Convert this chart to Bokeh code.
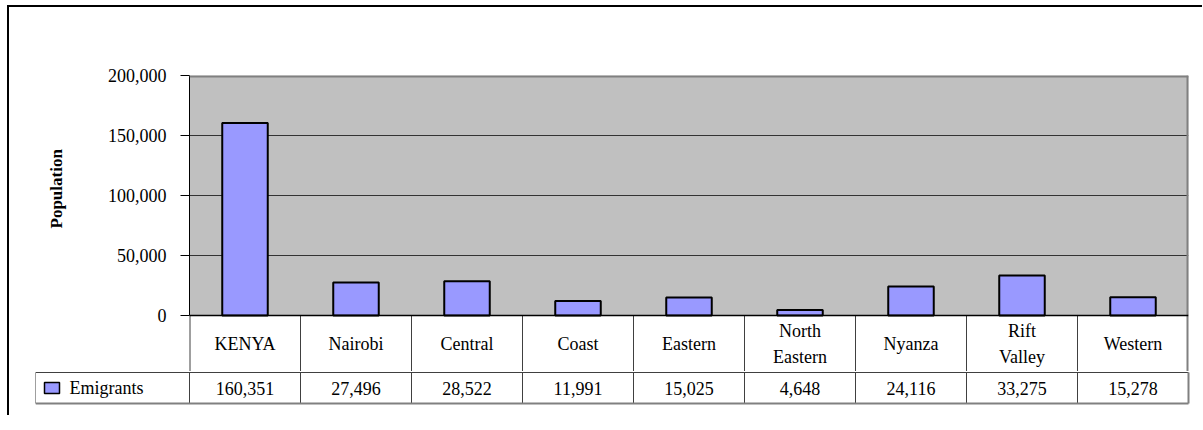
from bokeh.plotting import figure
from bokeh.layouts import column
from bokeh.models import (Range1d, FactorRange, FixedTicker, NumeralTickFormatter, Span,
                          BoxAnnotation, Title)
from bokeh.core.properties import value
from bokeh.embed import file_html
from bokeh.resources import INLINE

# ---- data ----
categories = ["KENYA", "Nairobi", "Central", "Coast", "Eastern",
              "North Eastern", "Nyanza", "Rift Valley", "Western"]
header_labels = ["KENYA", "Nairobi", "Central", "Coast", "Eastern",
                 "North\nEastern", "Nyanza", "Rift\nValley", "Western"]
emigrants = [160351, 27496, 28522, 11991, 15025, 4648, 24116, 33275, 15278]
y_ticks = [0, 50000, 100000, 150000, 200000]
grid_ticks = [50000, 100000, 150000]
series_name = "Emigrants"
y_label = "Population"

FONT_NAME = "Liberation Serif"
FONT = value(FONT_NAME)
FS = "18px"
BAR_FILL = "#9999FF"
N = len(categories)
PX = 111.0                      # pixels per category column
Y_MAX = 200000
Y_PER_PX = Y_MAX / 240.0        # value units per pixel of the plot area
CAT_ROW_PX = 56                 # height of the category row (in the chart figure)
y_low = -CAT_ROW_PX * Y_PER_PX

# ---- chart + category row ----
p = figure(width=1193, height=364, x_range=FactorRange(factors=categories),
           y_range=Range1d(y_low, Y_MAX), x_axis_location=None,
           min_border_left=180, min_border_right=14, min_border_top=68,
           min_border_bottom=0, toolbar_location=None, output_backend="svg")
p.frame_align = False
p.background_fill_color = "white"
p.outline_line_color = None
p.xgrid.visible = False
p.ygrid.ticker = FixedTicker(ticks=grid_ticks)
p.ygrid.grid_line_color = "#333333"
p.ygrid.grid_line_width = 1

p.add_layout(BoxAnnotation(bottom=0, top=Y_MAX, fill_color="#C0C0C0", fill_alpha=1,
                           line_color=None, level="image"))

p.vbar(x=categories, top=emigrants, width=0.41, fill_color=BAR_FILL,
       line_color="black", line_width=2)

p.add_layout(Span(location=Y_MAX, dimension="width", line_color="#808080", line_width=4))
p.add_layout(Span(location=N, dimension="height", line_color="#808080", line_width=4))
p.add_layout(Span(location=0, dimension="width", line_color="black", line_width=1.5))

# category-row cell separators
seps = list(range(0, N))
p.segment(x0=seps, y0=[y_low] * N, x1=seps, y1=[0] * N,
          line_color="#404040", line_width=[2] + [1] * (N - 1))
p.text(x=categories, y=[y_low / 2] * N, text=header_labels,
       text_align="center", text_baseline="middle", text_font=FONT,
       text_font_size=FS, text_color="black", text_line_height=1.3)

ya = p.yaxis[0]
ya.bounds = (0, Y_MAX)
ya.ticker = FixedTicker(ticks=y_ticks)
ya.formatter = NumeralTickFormatter(format="0,0")
ya.major_tick_in = 0
ya.major_tick_out = 9
ya.minor_tick_line_color = None
ya.axis_line_color = "black"
ya.major_tick_line_color = "black"
ya.major_label_text_font = FONT_NAME
ya.major_label_text_font_size = FS
ya.major_label_text_color = "black"
ya.major_label_standoff = 14

# y axis title, placed left of the tick labels (shifted up like the original)
p.add_layout(Title(text=y_label, align="left", offset=143, standoff=74,
                   vertical_align="top",
                   text_font=FONT_NAME, text_font_style="bold",
                   text_font_size="17px", text_color="black"), "left")

# ---- data row of the table ----
left = -154 / PX
ROW = 31
t = figure(width=1193, height=44, x_range=Range1d(left, N + 4 / PX),
           y_range=Range1d(-2, ROW + 1), x_axis_location=None, y_axis_location=None,
           min_border_left=26, min_border_right=10, min_border_top=0,
           min_border_bottom=10, toolbar_location=None, output_backend="svg")
t.frame_align = False
t.outline_line_color = None
t.grid.visible = False

xs = [left] + list(range(0, N))
t.segment(x0=xs, y0=[0] * len(xs), x1=xs, y1=[ROW] * len(xs), line_color="#404040", line_width=1)
t.segment(x0=[left], y0=[ROW], x1=[N], y1=[ROW], line_color="#404040", line_width=1)
t.segment(x0=[N, left], y0=[0, 0], x1=[N, N], y1=[ROW, 0], line_color="#808080", line_width=2)

centers = [i + 0.5 for i in range(N)]
t.text(x=centers, y=[ROW / 2] * N, text=["{:,}".format(v) for v in emigrants],
       text_align="center", text_baseline="middle", text_font=FONT,
       text_font_size=FS, text_color="black")

# legend key
t.rect(x=[left + 16.5 / PX], y=[ROW / 2], width=15, height=11,
       width_units="screen", height_units="screen", fill_color=BAR_FILL,
       line_color="black", line_width=1.5)
t.text(x=[left + 34 / PX], y=[ROW / 2], text=[series_name], text_align="left",
       text_baseline="middle", text_font=FONT, text_font_size=FS, text_color="black")

layout = column(p, t, spacing=0,
                styles={"border-left": "2px solid black", "border-top": "2px solid black",
                        "margin-left": "7px", "margin-top": "5px"})

open("out.html", "w").write(file_html(layout, INLINE))
